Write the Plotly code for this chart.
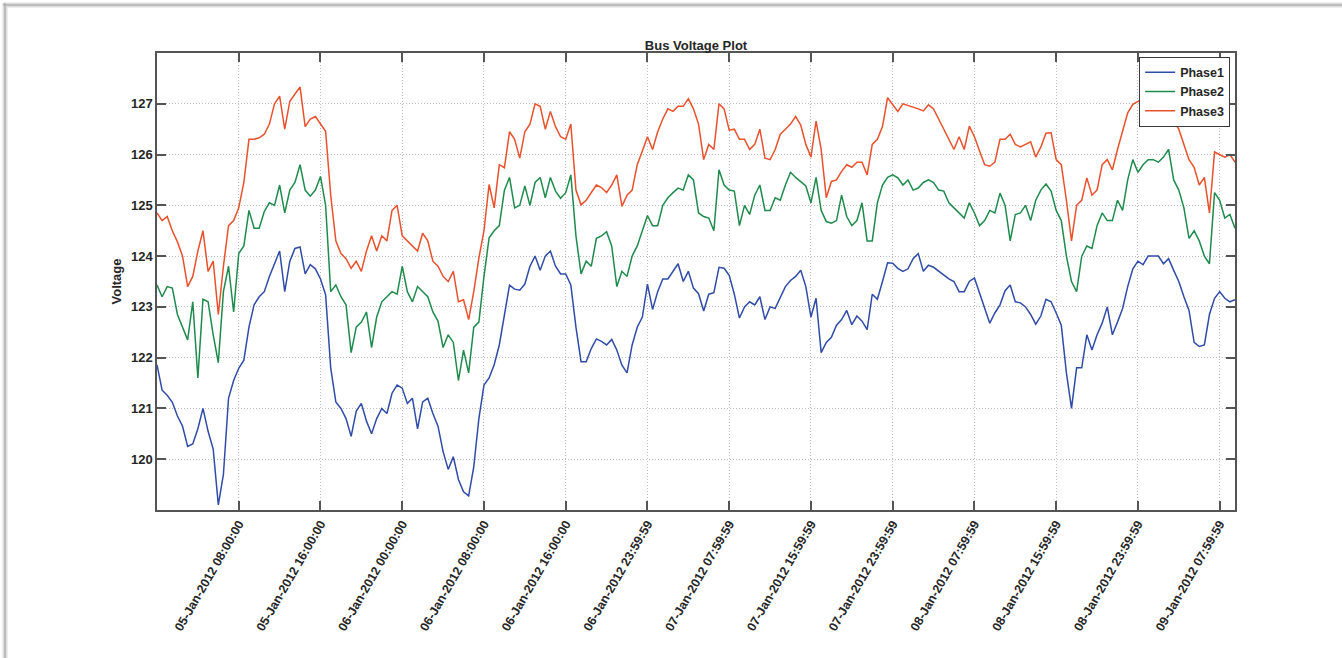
import pandas as pd
import plotly.graph_objects as go

# Half-hourly samples starting 05-Jan-2012 00:00
start_time = "2012-01-05 00:00"
sample_step = "30min"

phase1 = [
    121.86, 121.36, 121.26, 121.12, 120.85, 120.65, 120.25, 120.3, 120.6, 121.0,
    120.55, 120.2, 119.1, 119.7, 121.2, 121.55, 121.79, 121.95, 122.6, 123.04,
    123.2, 123.3, 123.6, 123.85, 124.1, 123.3, 123.9, 124.15, 124.18, 123.65,
    123.83, 123.75, 123.55, 123.24, 121.8, 121.13, 121.0, 120.8, 120.45, 120.95,
    121.1, 120.75, 120.5, 120.8, 121.0, 120.9, 121.3, 121.46, 121.4, 121.1,
    121.2, 120.6, 121.13, 121.2, 120.9, 120.65, 120.15, 119.8, 120.05, 119.6,
    119.36, 119.28, 119.85, 120.8, 121.46, 121.6, 121.86, 122.25, 122.8, 123.43,
    123.35, 123.33, 123.45, 123.8, 124.0, 123.72, 124.0, 124.1, 123.8, 123.65,
    123.65, 123.43, 122.6, 121.92, 121.92, 122.18, 122.37, 122.32, 122.25, 122.36,
    122.15, 121.85, 121.7, 122.25, 122.6, 122.8, 123.45, 122.95, 123.3, 123.55,
    123.55, 123.7, 123.85, 123.5, 123.7, 123.37, 123.26, 122.92, 123.25, 123.28,
    123.78, 123.76, 123.62, 123.25, 122.78, 123.0, 123.1, 123.04, 123.2, 122.75,
    123.0, 122.97, 123.2, 123.4, 123.52, 123.6, 123.72, 123.4, 122.8, 123.17,
    122.1, 122.3, 122.4, 122.64, 122.75, 122.93, 122.65, 122.82, 122.72, 122.55,
    123.25, 123.15, 123.5, 123.87, 123.86, 123.76, 123.7, 123.75, 123.95, 124.05,
    123.7, 123.82, 123.78, 123.7, 123.62, 123.55, 123.5, 123.3, 123.3, 123.5,
    123.57, 123.28, 123.0, 122.68, 122.88, 123.04, 123.32, 123.43, 123.1, 123.08,
    123.0, 122.85, 122.66, 122.82, 123.15, 123.1, 122.88, 122.64, 121.7, 121.0,
    121.8, 121.8, 122.45, 122.15, 122.45, 122.68, 123.0, 122.45, 122.7, 122.97,
    123.4, 123.75, 123.9, 123.83, 124.0, 124.0, 124.0, 123.85, 123.95, 123.72,
    123.5, 123.2, 122.93, 122.3, 122.22, 122.25, 122.85, 123.17, 123.3, 123.17,
    123.1, 123.14,
]

phase2 = [
    123.43, 123.2, 123.4, 123.37, 122.85, 122.6, 122.35, 123.1, 121.6, 123.15,
    123.1, 122.45, 121.9, 123.3, 123.8, 122.9, 124.05, 124.2, 124.9, 124.55,
    124.55, 124.88, 125.05, 125.0, 125.4, 124.85, 125.3, 125.45, 125.8, 125.3,
    125.18, 125.3, 125.57, 125.0, 123.3, 123.43, 123.2, 123.04, 122.1, 122.6,
    122.7, 122.9, 122.2, 122.8, 123.1, 123.2, 123.3, 123.25, 123.8, 123.3,
    123.1, 123.4, 123.3, 123.2, 122.9, 122.72, 122.2, 122.45, 122.3, 121.55,
    122.15, 121.7, 122.6, 122.7, 123.6, 124.36, 124.5, 124.6, 125.3, 125.55,
    124.95, 125.0, 125.38, 125.0, 125.45, 125.55, 125.15, 125.55, 125.28, 125.14,
    125.25, 125.6, 124.4, 123.65, 123.9, 123.8, 124.35, 124.4, 124.48, 124.2,
    123.4, 123.7, 123.6, 124.0, 124.2, 124.5, 124.8, 124.6, 124.6, 125.0,
    125.15, 125.25, 125.34, 125.3, 125.6, 125.5, 124.85, 124.78, 124.75, 124.5,
    125.7, 125.4, 125.3, 125.28, 124.6, 125.0, 124.82, 125.2, 125.4, 124.9,
    124.9, 125.15, 125.1, 125.4, 125.65, 125.55, 125.47, 125.38, 125.05, 125.55,
    124.9, 124.68, 124.65, 124.7, 125.2, 124.78, 124.6, 124.7, 125.05, 124.3,
    124.3, 125.05, 125.4, 125.55, 125.6, 125.54, 125.4, 125.5, 125.3, 125.34,
    125.45, 125.5, 125.45, 125.3, 125.28, 125.05, 124.95, 124.85, 124.75, 125.05,
    124.85, 124.6, 124.7, 124.9, 124.85, 125.24, 125.0, 124.3, 124.82, 124.85,
    125.0, 124.7, 125.1, 125.3, 125.42, 125.28, 124.9, 124.7, 124.0, 123.5,
    123.3, 124.0, 124.2, 124.15, 124.6, 124.85, 124.7, 124.7, 125.1, 124.9,
    125.5, 125.9, 125.65, 125.8, 125.9, 125.9, 125.85, 125.95, 126.1, 125.5,
    125.3, 124.95, 124.35, 124.5, 124.3, 124.0, 123.85, 125.25, 125.1, 124.75,
    124.82, 124.55,
]

phase3 = [
    124.85, 124.7, 124.78, 124.5, 124.28, 124.0, 123.4, 123.6, 124.1, 124.5,
    123.7, 123.9, 122.85, 123.8, 124.6, 124.7, 124.95, 125.45, 126.3, 126.3,
    126.33, 126.4, 126.6, 127.0, 127.15, 126.5, 127.05, 127.18, 127.33, 126.55,
    126.7, 126.75, 126.6, 126.46, 125.2, 124.3, 124.05, 123.95, 123.76, 123.9,
    123.7, 124.1, 124.4, 124.1, 124.4, 124.3, 124.9, 125.0, 124.4, 124.3,
    124.2, 124.1, 124.45, 124.3, 123.9, 123.8, 123.6, 123.5, 123.7, 123.1,
    123.14, 122.75, 123.3, 123.96, 124.5, 125.41, 124.95, 125.8, 125.74, 126.45,
    126.3, 125.93, 126.45, 126.6, 127.0, 126.95, 126.5, 126.85, 126.55, 126.35,
    126.3, 126.6, 125.3, 125.01, 125.1, 125.25, 125.4, 125.35, 125.25, 125.4,
    125.6, 124.98, 125.2, 125.3, 125.8, 126.07, 126.35, 126.1, 126.45, 126.7,
    126.9, 126.85, 126.95, 126.95, 127.1, 126.9, 126.6, 125.9, 126.2, 126.1,
    127.0, 126.9, 126.48, 126.5, 126.3, 126.3, 126.1, 126.2, 126.5, 125.93,
    125.9, 126.1, 126.4, 126.5, 126.6, 126.75, 126.58, 126.2, 125.95, 126.66,
    126.1, 125.15, 125.47, 125.5, 125.67, 125.8, 125.75, 125.85, 125.85, 125.6,
    126.2, 126.3, 126.55, 127.12, 126.99, 126.85, 127.0, 126.97, 126.93, 126.9,
    126.86, 126.98, 126.9, 126.7, 126.5, 126.3, 126.1, 126.35, 126.1, 126.56,
    126.35, 126.07, 125.8, 125.77, 125.85, 126.3, 126.3, 126.4, 126.2, 126.15,
    126.2, 126.25, 125.95, 126.15, 126.42, 126.43, 125.9, 125.8, 125.1, 124.3,
    125.0, 125.1, 125.54, 125.2, 125.3, 125.8, 125.9, 125.7, 126.1, 126.45,
    126.82, 126.99, 127.05, 127.1, 127.05, 126.9, 126.85, 126.8, 126.75, 126.65,
    126.5, 126.2, 125.9, 125.75, 125.4, 125.55, 124.85, 126.05, 126.0, 125.95,
    126.0, 125.85,
]

series_names = ["Phase1", "Phase2", "Phase3"]
series_colors = ["#2f4ca8", "#1e8b4c", "#e8512c"]

tick_times = [
    "2012-01-05 08:00:00", "2012-01-05 16:00:00", "2012-01-06 00:00:00",
    "2012-01-06 08:00:00", "2012-01-06 16:00:00", "2012-01-07 00:00:00",
    "2012-01-07 08:00:00", "2012-01-07 16:00:00", "2012-01-08 00:00:00",
    "2012-01-08 08:00:00", "2012-01-08 16:00:00", "2012-01-09 00:00:00",
    "2012-01-09 08:00:00",
]
tick_labels = [
    "05-Jan-2012 08:00:00", "05-Jan-2012 16:00:00", "06-Jan-2012 00:00:00",
    "06-Jan-2012 08:00:00", "06-Jan-2012 16:00:00", "06-Jan-2012 23:59:59",
    "07-Jan-2012 07:59:59", "07-Jan-2012 15:59:59", "07-Jan-2012 23:59:59",
    "08-Jan-2012 07:59:59", "08-Jan-2012 15:59:59", "08-Jan-2012 23:59:59",
    "09-Jan-2012 07:59:59",
]
y_ticks = [120, 121, 122, 123, 124, 125, 126, 127]

times = pd.date_range(start_time, periods=len(phase1), freq=sample_step)

FONT = "Liberation Sans, Arial, sans-serif"
TEXT = "#262626"

fig = go.Figure()
for name, values, color in zip(series_names, [phase1, phase2, phase3], series_colors):
    fig.add_trace(go.Scatter(
        x=times, y=values, mode="lines", name=name,
        line=dict(color=color, width=1.5),
    ))

W, H = 1342, 658
ML, MR, MT, MB = 157, 107, 53, 148
pw, ph = W - ML - MR, H - MT - MB


def px_x(v):
    return (v - ML) / pw


def px_y(v):
    return (H - MB - v) / ph


axis_common = dict(
    showline=True, linecolor="#555555", linewidth=1.5, mirror="allticks",
    ticks="inside", ticklen=9, tickcolor="#555555", tickwidth=1.5,
    showgrid=True, gridcolor="#bdbdbd", griddash="1px,2px", gridwidth=1,
    zeroline=False, automargin=False,
    tickfont=dict(family=FONT, size=13, color=TEXT, weight="bold"),
)

fig.update_layout(
    template="none",
    width=W, height=H,
    margin=dict(l=ML, r=MR, t=MT, b=MB, autoexpand=False),
    paper_bgcolor="white", plot_bgcolor="white",
    title=dict(
        text="<b>Bus Voltage Plot</b>", x=0.5, xref="paper", xanchor="center",
        y=1, yref="paper", yanchor="bottom", pad=dict(b=3),
        font=dict(family=FONT, size=13, color=TEXT),
    ),
    xaxis=dict(
        axis_common,
        type="date",
        range=["2012-01-05 00:00", "2012-01-09 09:30"],
        tickmode="array", tickvals=tick_times, ticktext=tick_labels,
        tickangle=-60,
        tickfont=dict(family=FONT, size=12.5, color=TEXT, weight="bold"),
    ),
    yaxis=dict(
        axis_common,
        range=[119, 128],
        tickmode="array", tickvals=y_ticks, ticktext=[str(v) for v in y_ticks],
        title=dict(text="<b>Voltage</b>", standoff=6,
                   font=dict(family=FONT, size=13, color=TEXT)),
    ),
    legend=dict(
        x=0.9955, y=0.992, xanchor="right", yanchor="top",
        bgcolor="white", bordercolor="#3a3a3a", borderwidth=1,
        font=dict(family=FONT, size=12.5, color=TEXT, weight="bold"),
        itemwidth=30, tracegroupgap=0,
    ),
    showlegend=True,
)

# Light frame along the top and left edges of the figure
for lw, lc in [(5, "#dedede"), (1.5, "#b0b0b0")]:
    fig.add_shape(type="line", xref="paper", yref="paper",
                  x0=px_x(3), x1=px_x(W + 40), y0=px_y(5), y1=px_y(5),
                  line=dict(color=lc, width=lw), layer="below")
    fig.add_shape(type="line", xref="paper", yref="paper",
                  x0=px_x(5), x1=px_x(5), y0=px_y(3), y1=px_y(H + 40),
                  line=dict(color=lc, width=lw), layer="below")

fig.write_html("out.html")
